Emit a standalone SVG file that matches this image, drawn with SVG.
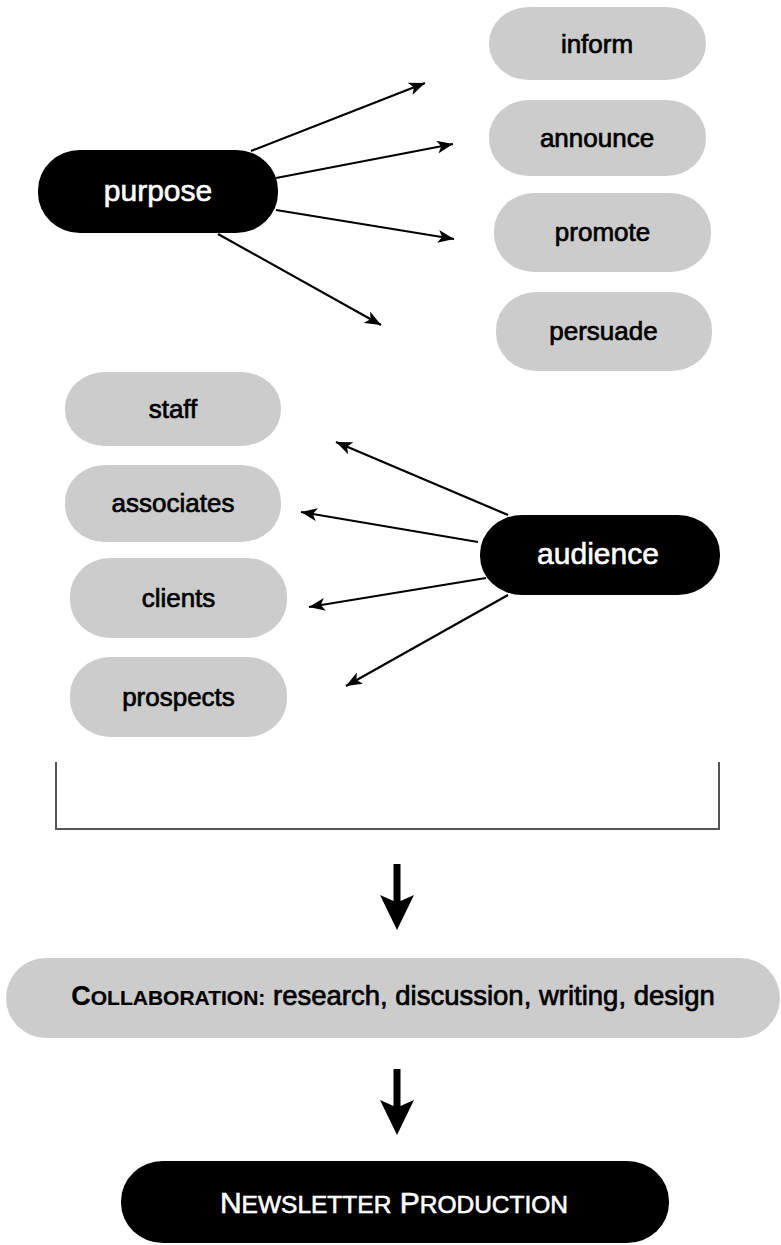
<svg xmlns="http://www.w3.org/2000/svg" width="781" height="1245" viewBox="0 0 781 1245">
<defs>
<style>
.g{fill:#cccccc;}
.b{fill:#000;}
.t{font-family:"Liberation Sans",Arial,Helvetica,sans-serif;font-size:26px;fill:#000;stroke:#000;stroke-width:0.7;text-anchor:middle;}
.tw{font-family:"Liberation Sans",Arial,Helvetica,sans-serif;font-size:30px;fill:#fff;stroke:#fff;stroke-width:0.6;text-anchor:middle;}
.c{stroke:#000;stroke-width:2.2;fill:none;marker-end:url(#ah);}
.br{stroke:#555;stroke-width:2;fill:none;}
</style>
<marker id="ah" viewBox="0 0 16 13" refX="16" refY="6.5" markerWidth="16" markerHeight="13" markerUnits="userSpaceOnUse" orient="auto">
<path d="M0,0 L16,6.5 L0,13 L4,6.5 z" fill="#000"/>
</marker>
<path id="bigArrow" d="M393.5,864 H400.5 V901 L414,895 L397,930 L380,895 L393.5,901 Z" fill="#000"/>
</defs>

<g id="connectors">
<line class="c" x1="251" y1="151" x2="425" y2="83"/>
<line class="c" x1="276" y1="178" x2="453" y2="144"/>
<line class="c" x1="276" y1="210" x2="454" y2="239"/>
<line class="c" x1="218" y1="234" x2="381" y2="325"/>
<line class="c" x1="508" y1="515" x2="336" y2="442"/>
<line class="c" x1="478" y1="542" x2="301" y2="512"/>
<line class="c" x1="486" y1="578" x2="309" y2="607"/>
<line class="c" x1="508" y1="595" x2="346" y2="686"/>
<path class="br" d="M56,762 V829 H719 V762"/>
<use href="#bigArrow"/>
<use href="#bigArrow" transform="translate(0,205)"/>
</g>

<g id="purpose">
<rect class="b" x="38" y="150" width="240" height="83" rx="42" ry="40"/>
<text class="tw" x="158" y="201">purpose</text>
</g>
<g id="inform">
<rect class="g" x="489" y="7" width="217" height="73" rx="40" ry="36"/>
<text class="t" x="597" y="52.5">inform</text>
</g>
<g id="announce">
<rect class="g" x="489" y="100" width="217" height="76" rx="40" ry="37"/>
<text class="t" x="597" y="146.5">announce</text>
</g>
<g id="promote">
<rect class="g" x="494" y="193" width="217" height="79" rx="40" ry="38"/>
<text class="t" x="602.5" y="241">promote</text>
</g>
<g id="persuade">
<rect class="g" x="496" y="292" width="216" height="79" rx="40" ry="38"/>
<text class="t" x="603.5" y="340">persuade</text>
</g>

<g id="audience">
<rect class="b" x="480" y="515" width="240" height="80" rx="42" ry="39"/>
<text class="tw" x="598" y="564">audience</text>
</g>
<g id="staff">
<rect class="g" x="65" y="372" width="216" height="74" rx="40" ry="36"/>
<text class="t" x="173" y="417.5">staff</text>
</g>
<g id="associates">
<rect class="g" x="65" y="465" width="216" height="77" rx="40" ry="37"/>
<text class="t" x="173" y="512">associates</text>
</g>
<g id="clients">
<rect class="g" x="70" y="558" width="217" height="80" rx="40" ry="38"/>
<text class="t" x="178.5" y="606.5">clients</text>
</g>
<g id="prospects">
<rect class="g" x="70" y="657" width="217" height="80" rx="40" ry="38"/>
<text class="t" x="178.5" y="705.5">prospects</text>
</g>

<g id="collaboration">
<rect class="g" x="6" y="958" width="774" height="80" rx="40" ry="40"/>
<text class="t" x="393" y="1005" style="font-size:27.5px"><tspan font-weight="bold" stroke-width="0.2" style="font-size:27px">C</tspan><tspan font-weight="bold" stroke-width="0.2" style="font-size:21px">OLLABORATION:</tspan> research, discussion, writing, design</text>
</g>

<g id="newsletter">
<rect class="b" x="121" y="1161" width="548" height="82" rx="42" ry="40"/>
<text class="tw" x="394" y="1213"><tspan>N</tspan><tspan style="font-size:24.5px">EWSLETTER</tspan> <tspan>P</tspan><tspan style="font-size:24.5px">RODUCTION</tspan></text>
</g>
</svg>
